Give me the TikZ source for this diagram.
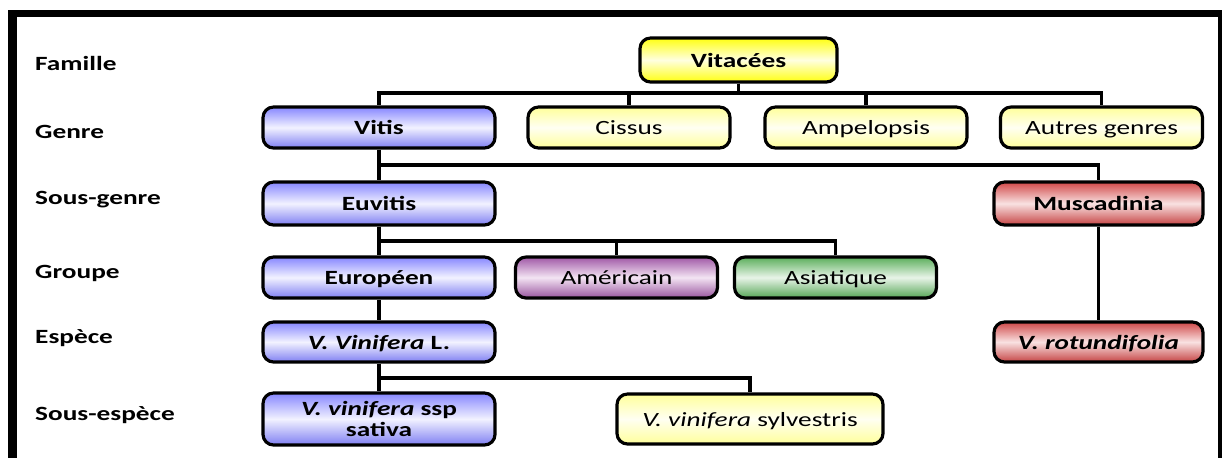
\documentclass[tikz,border=0pt]{standalone}
\usepackage{fontspec}
\setmainfont{Carlito}[FakeStretch=1.35]
\usetikzlibrary{positioning, calc}

\definecolor{bluetop}{HTML}{8686FF}
\definecolor{bluemid}{HTML}{F2F2FF}
\definecolor{yeltop}{HTML}{FFFF10}
\definecolor{yelmid}{HTML}{FFFFE0}
\definecolor{paletop}{HTML}{FFFF9A}
\definecolor{palemid}{HTML}{FFFFF2}
\definecolor{redtop}{HTML}{D04848}
\definecolor{redmid}{HTML}{F9E2E2}
\definecolor{purtop}{HTML}{A058A6}
\definecolor{purmid}{HTML}{F3E4F3}
\definecolor{grntop}{HTML}{5AAE5A}
\definecolor{grnmid}{HTML}{E8F4E8}

\begin{document}
\begin{tikzpicture}[
  font=\fontsize{11.5}{11.5}\selectfont,
  box/.style={rectangle,draw=black,line width=1.8pt,rounded corners=6pt, minimum width=4.04cm,minimum height=0.82cm,align=center,inner sep=2pt, text height=0.95em, text depth=0.15em},
  blu/.style={box,minimum width=4.64cm,top color=bluetop,bottom color=bluetop!95!black,middle color=bluemid,font=\fontsize{11.5}{11.5}\selectfont\bfseries},
  yel/.style={box,top color=yeltop,bottom color=yeltop,middle color=yelmid,font=\fontsize{11.5}{11.5}\selectfont\bfseries},
  pale/.style={box,top color=paletop,bottom color=paletop,middle color=palemid},
  rouge/.style={box,minimum width=4.18cm,top color=redtop,bottom color=redtop!95!black,middle color=redmid,font=\fontsize{11.5}{11.5}\selectfont\bfseries},
  violet/.style={box,top color=purtop,bottom color=purtop!95!black,middle color=purmid},
  vert/.style={box,top color=grntop,bottom color=grntop!95!black,middle color=grnmid},
  rang/.style={anchor=west,font=\fontsize{11.5}{11.5}\selectfont\bfseries},
  conn/.style={line width=2pt}
]
  \useasboundingbox (0,0) rectangle (24.5,-9.14);
  \draw[line width=4pt] (0.16,-0.27) -- (24.44,-0.27);
  \draw[line width=5.1pt] (0.25,-0.2) -- (0.25,-9.2);
  \draw[line width=2.3pt] (24.4,-0.2) -- (24.4,-9.2);

  \node[rang](famille) at (0.58,-1.26) {Famille};
  \node[rang](genre)   at (0.58,-2.64) {Genre};
  \node[rang](sgenre)  at (0.58,-4.0)  {Sous-genre};
  \node[rang](groupe)  at (0.58,-5.46) {Groupe};
  \node[rang](espece)  at (0.58,-6.76) {Espèce};
  \node[rang](sespece) at (0.58,-8.3)  {Sous-espèce};

  \node[yel, minimum width=3.94cm, minimum height=0.88cm](vitacees) at (14.77,-1.2) {Vitacées};
  \node[blu](vitis)        at (7.58,-2.55)  {Vitis};
  \node[pale](cissus)      at (12.58,-2.55) {Cissus};
  \node[pale](ampelopsis)  at (17.32,-2.55) {Ampelopsis};
  \node[pale](autres)      at (22.03,-2.55) {Autres genres};
  \node[blu, minimum height=0.86cm](euvitis)   at (7.58,-4.07)  {Euvitis};
  \node[rouge, minimum height=0.86cm](muscad)  at (21.97,-4.07) {Muscadinia};
  \node[blu](europeen)     at (7.58,-5.55)  {Européen};
  \node[violet](americain) at (12.33,-5.55) {Américain};
  \node[vert](asiatique)   at (16.71,-5.55) {Asiatique};
  \node[blu, minimum height=0.8cm](vinifera)   at (7.58,-6.84)  {\textit{V. Vinifera} L.};
  \node[rouge, minimum height=0.8cm](rotund)   at (21.97,-6.84) {\textit{V. rotundifolia}};
  \node[blu, minimum height=1.04cm, text height=, text depth=](sativa) at (7.58,-8.38) {\textit{V. vinifera} ssp\\sativa};
  \node[pale, minimum width=5.32cm, minimum height=1.0cm](sylvestris) at (15.0,-8.38) {\textit{V. vinifera} sylvestris};

  \coordinate (b1) at (0,-1.86);
  \coordinate (b2) at (0,-3.3);
  \coordinate (b3) at (0,-4.82);
  \coordinate (b4) at (0,-7.56);

  \foreach \c in {vitis, cissus, ampelopsis, autres}{\draw[conn](vitacees.south) |- (\c.north |- b1) -- (\c.north);}
  \foreach \c in {euvitis, muscad}{\draw[conn](vitis.south) |- (\c.north |- b2) -- (\c.north);}
  \foreach \c in {europeen, americain, asiatique}{\draw[conn](euvitis.south) |- (\c.north |- b3) -- (\c.north);}
  \foreach \c in {sativa, sylvestris}{\draw[conn](vinifera.south) |- (\c.north |- b4) -- (\c.north);}
  \draw[conn](europeen) -- (vinifera);
  \draw[conn](muscad) -- (rotund);
\end{tikzpicture}
\end{document}
